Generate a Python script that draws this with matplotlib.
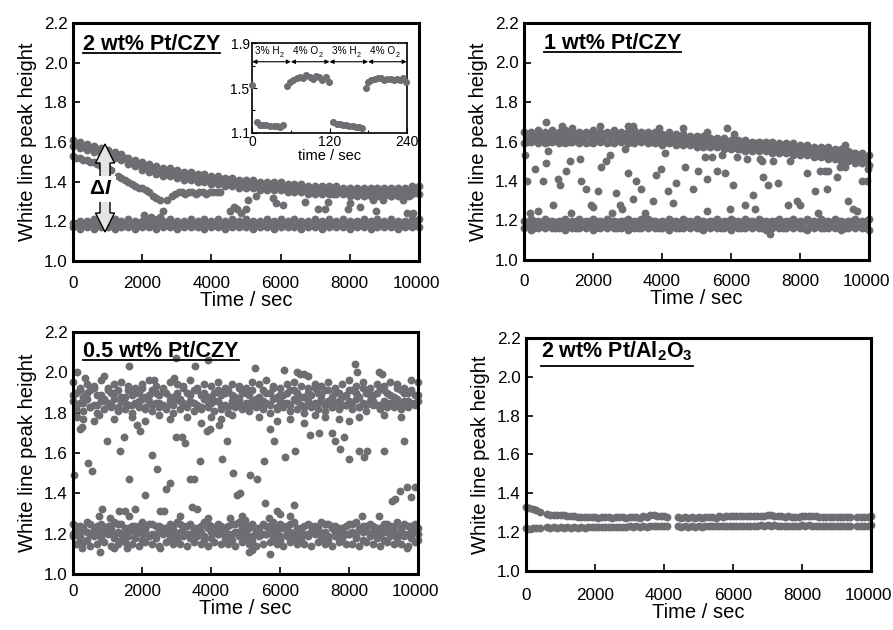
import numpy as np
import matplotlib
matplotlib.use("Agg")
import matplotlib.pyplot as plt
from matplotlib.patches import Polygon
from matplotlib.lines import Line2D
from matplotlib.transforms import ScaledTranslation

plt.rcParams['font.family'] = ['Liberation Sans', 'DejaVu Sans']
plt.rcParams['mathtext.fontset'] = 'custom'
plt.rcParams['mathtext.rm'] = 'Liberation Sans'
plt.rcParams['mathtext.bf'] = 'Liberation Sans:bold'
plt.rcParams['mathtext.it'] = 'Liberation Sans:italic'
plt.rcParams['mathtext.bfit'] = 'Liberation Sans:italic:bold'
plt.rcParams['mathtext.default'] = 'rm'

nan = np.nan
GRID_A = np.arange(0, 10001, 200)   # sampling times (s)
GRID_B = np.arange(100, 10000, 200)

# ---------------- 2 wt% Pt/CZY ----------------
czy2_up_a = [1.61,1.60,1.59,1.58,1.57,1.56,1.55,1.54,1.52,1.51,
             1.50,1.49,1.48,1.47,1.47,1.46,1.45,1.45,1.44,1.44,
             1.43,1.43,1.42,1.42,1.41,1.41,1.41,1.40,1.40,1.40,
             1.40,1.39,1.39,1.39,1.38,1.38,1.38,1.38,1.38,1.37,
             1.37,1.37,1.37,1.37,1.37,1.37,1.37,1.37,1.37,1.38,1.38]
czy2_up_b = [1.59,1.58,1.57,1.56,1.55,1.54,1.53,1.52,1.50,1.49,
             1.48,1.47,1.46,1.45,1.45,1.44,1.43,1.43,1.42,1.42,
             1.41,1.41,1.40,1.40,1.39,1.39,1.39,1.38,1.38,1.38,
             1.37,1.37,1.37,1.37,1.36,1.36,1.36,1.36,1.36,1.35,
             1.35,1.35,1.35,1.35,1.35,1.35,1.35,1.35,1.35,1.36]
czy2_up_c = [1.58,1.57,1.56,1.55,1.54,1.53,1.52,1.51,1.49,1.48,
             1.46,1.45,1.44,1.43,1.43,1.42,1.41,1.41,1.40,1.40,
             1.39,1.39,1.38,1.38,1.37,1.37,1.37,1.36,1.36,1.36,
             1.36,1.35,1.35,1.35,1.34,1.34,1.34,1.34,1.34,1.34,
             1.33,1.33,1.33,1.33,1.33,1.33,1.33,1.33,1.34,1.34,1.34]
czy2_lo_a = [1.19,1.20,1.20,1.21,1.20,1.20,1.21,1.20,1.21,1.20,
             1.20,1.21,1.20,1.20,1.21,1.20,1.20,1.21,1.20,1.21,
             1.20,1.21,1.20,1.21,1.20,1.21,1.20,1.20,1.21,1.20,
             1.21,1.20,1.21,1.20,1.20,1.21,1.20,1.21,1.20,1.21,
             1.20,1.20,1.21,1.20,1.21,1.20,1.21,1.20,1.20,1.21,1.21]
czy2_lo_b = [1.18,1.18,1.19,1.18,1.18,1.19,1.18,1.18,1.18,1.19,
             1.18,1.18,1.19,1.18,1.18,1.18,1.19,1.18,1.18,1.19,
             1.18,1.18,1.18,1.19,1.18,1.18,1.19,1.18,1.18,1.18,
             1.19,1.18,1.18,1.19,1.18,1.18,1.18,1.19,1.18,1.18,
             1.19,1.18,1.18,1.18,1.19,1.18,1.18,1.19,1.18,1.18]
czy2_lo_c = [1.17,1.16,1.17,1.16,1.17,1.17,1.16,1.17,1.17,1.16,
             1.17,1.17,1.16,1.17,1.17,1.16,1.17,1.17,1.17,1.16,
             1.17,1.17,1.16,1.17,1.17,1.17,1.16,1.17,1.17,1.16,
             1.17,1.17,1.17,1.16,1.17,1.17,1.16,1.17,1.17,1.17,
             1.16,1.17,1.17,1.16,1.17,1.17,1.17,1.16,1.17,1.17,1.17]
czy2_br_t = [0,100,200,300,400,500,600,700,800,900,1000,1100,1300,1400,1500,
             1600,1700,1800,1900,2000,2100,2200,2300,2400,2500]
czy2_br_v = [1.53,1.52,1.52,1.51,1.51,1.50,1.50,1.49,1.48,1.47,1.47,1.46,1.43,1.42,1.41,
             1.40,1.39,1.38,1.37,1.37,1.36,1.35,1.33,1.32,1.31]
czy2_mid_t = [2050,2150,2250,2350,2500,2600,2720,2860,2950,3050,
              3150,3250,3350,3450,3550,3650,3750,3850,3950,4050,
              4150,4250,4550,4650,4750,4850,5010,5060,5300,5450,
              5780,5880,6070,6700,7080,7280,7380,7520,7960,8000,
              8290,8500,8680,8750,8970,9200,9550,9640,9840,9700]
czy2_mid_v = [1.23,1.21,1.22,1.21,1.22,1.25,1.31,1.33,1.34,1.35,
              1.35,1.34,1.35,1.35,1.34,1.35,1.35,1.34,1.35,1.35,
              1.35,1.35,1.25,1.27,1.26,1.24,1.26,1.31,1.33,1.37,
              1.32,1.29,1.28,1.30,1.26,1.26,1.30,1.34,1.26,1.29,
              1.27,1.34,1.31,1.25,1.31,1.33,1.31,1.24,1.24,1.33]

# inset: 0-240 s switching
ins_t = [0, 7,12,17,22,27,33,38,43,48,
         54,59,64,69,74,79,84,89,94,99,104,109,114,119,
         126,131,136,141,146,151,156,161,166,170,
         176,180,185,190,195,200,205,210,215,220,225,230,234,239]
ins_v = [1.53, 1.20,1.17,1.17,1.17,1.16,1.16,1.16,1.15,1.17,
         1.52,1.55,1.57,1.59,1.60,1.59,1.62,1.60,1.58,1.61,1.60,1.57,1.60,1.55,
         1.20,1.18,1.18,1.17,1.17,1.16,1.16,1.15,1.15,1.14,
         1.50,1.55,1.57,1.58,1.59,1.59,1.57,1.58,1.58,1.57,1.58,1.57,1.59,1.55]
ins_seg_gas = ['3% H', '4% O', '3% H', '4% O']
ins_seg_edges = [0, 60, 120, 180, 240]

# ---------------- 1 wt% Pt/CZY ----------------
czy1_up_hi = [1.65,1.65,1.66,1.65,1.66,1.65,1.66,1.65,1.65,1.65,
              1.66,1.65,1.65,1.66,1.65,1.65,1.66,1.65,1.65,1.65,
              1.64,1.65,1.64,1.64,1.63,1.63,1.63,1.62,1.62,1.62,
              1.61,1.61,1.61,1.60,1.60,1.60,1.60,1.59,1.59,1.59,
              1.58,1.58,1.57,1.57,1.57,1.56,1.56,1.55,1.54,1.54,1.53]
czy1_up_x = [1.64,1.63,1.64,1.64,1.63,1.64,1.64,1.63,1.64,1.64,
             1.63,1.64,1.64,1.63,1.64,1.64,1.63,1.64,1.64,1.63,
             1.63,1.62,1.62,1.62,1.61,1.61,1.61,1.61,1.60,1.60,
             1.60,1.59,1.59,1.59,1.59,1.58,1.58,1.58,1.57,1.57,
             1.57,1.56,1.56,1.56,1.55,1.55,1.54,1.54,1.53,1.52]
czy1_up_mid = [1.62,1.62,1.63,1.62,1.62,1.63,1.62,1.62,1.62,1.63,
               1.62,1.62,1.63,1.62,1.62,1.62,1.62,1.63,1.62,1.62,
               1.61,1.61,1.61,1.60,1.60,1.60,1.60,1.59,1.59,1.59,
               1.58,1.58,1.58,1.58,1.57,1.57,1.57,1.56,1.56,1.55,
               1.55,1.55,1.55,1.54,1.54,1.53,1.53,1.52,1.51,1.51]
czy1_up_y = [1.60,1.61,1.61,1.60,1.61,1.61,1.60,1.61,1.61,1.60,
             1.61,1.61,1.60,1.61,1.61,1.60,1.61,1.61,1.60,1.60,
             1.60,1.60,1.59,1.59,1.59,1.58,1.58,1.58,1.58,1.57,
             1.57,1.57,1.56,1.56,1.56,1.56,1.55,1.55,1.55,1.54,
             1.54,1.54,1.53,1.53,1.52,1.52,1.51,1.51,1.50,1.50]
czy1_up_lo = [1.59,1.60,1.59,1.59,1.60,1.59,1.59,1.60,1.59,1.59,
              1.59,1.60,1.59,1.59,1.60,1.59,1.59,1.60,1.59,1.59,
              1.58,1.59,1.58,1.58,1.58,1.57,1.57,1.57,1.57,1.56,
              1.56,1.56,1.55,1.55,1.55,1.55,1.54,1.54,1.54,1.53,
              1.53,1.53,1.52,1.52,1.51,1.51,1.50,1.50,1.49,1.49,1.48]
czy1_lo_hi = [1.20,1.21,1.20,1.21,1.20,1.20,1.21,1.20,1.21,1.20,
              1.21,1.20,1.21,1.20,1.20,1.21,1.20,1.21,1.21,1.20,
              1.20,1.21,1.20,1.21,1.20,1.21,1.20,1.20,1.21,1.20,
              1.21,1.20,1.21,1.20,1.21,1.20,1.20,1.21,1.20,1.21,
              1.20,1.21,1.20,1.21,1.20,1.21,1.20,1.20,1.21,1.20,1.21]
czy1_lo_x = [1.19,1.20,1.19,1.20,1.19,1.20,1.19,1.20,1.19,1.20,
             1.20,1.19,1.20,1.19,1.20,1.19,1.20,1.19,1.20,1.19,
             1.19,1.20,1.19,1.20,1.19,1.20,1.19,1.20,1.19,1.20,
             1.20,1.19,1.20,1.19,1.20,1.19,1.20,1.19,1.20,1.19,
             1.19,1.20,1.19,1.20,1.19,1.20,1.19,1.20,1.19,1.20]
czy1_lo_mid = [1.18,1.18,1.18,1.19,1.18,1.18,1.18,1.18,1.19,1.18,
               1.18,1.18,1.18,1.19,1.18,1.18,1.18,1.18,1.19,1.18,
               1.18,1.18,1.18,1.19,1.18,1.18,1.18,1.18,1.18,1.19,
               1.18,1.18,1.18,1.18,1.19,1.18,1.18,1.18,1.18,1.18,
               1.19,1.18,1.18,1.18,1.18,1.19,1.18,1.18,1.18,1.18]
czy1_lo_y = [1.17,1.16,1.17,1.17,1.16,1.17,1.17,1.16,1.17,1.17,
             1.16,1.17,1.17,1.16,1.17,1.17,1.16,1.17,1.17,1.16,
             1.17,1.17,1.16,1.17,1.17,1.16,1.17,1.17,1.16,1.17,
             1.17,1.16,1.17,1.17,1.16,1.17,1.17,1.16,1.17,1.17,
             1.16,1.17,1.17,1.16,1.17,1.17,1.16,1.17,1.17,1.16]
czy1_lo_lo = [1.16,1.15,1.16,1.16,1.16,1.16,1.15,1.16,1.16,1.16,
              1.15,1.16,1.16,1.16,1.16,1.15,1.16,1.16,1.16,1.16,
              1.16,1.15,1.16,1.16,1.16,1.16,1.15,1.16,1.16,1.16,
              1.15,1.16,1.16,1.16,1.16,1.15,1.16,1.16,1.16,1.16,
              1.16,1.15,1.16,1.16,1.16,1.16,1.15,1.16,1.16,1.16,1.15]
czy1_out_t = [629,1100,1400,2200,3000,3150,3900,4600,5300,5870,6100,9300,7128]
czy1_out_v = [1.70,1.68,1.67,1.68,1.68,1.68,1.67,1.67,1.65,1.67,1.64,1.58,1.13]
czy1_mid_t = [20,87,184,310,406,551,648,696,841,986,
              1035,1228,1325,1373,1615,1640,1809,1954,2000,2147,
              2244,2389,2485,2563,2679,2776,2830,2921,3017,3162,
              3259,3404,3501,3743,3839,3985,4081,4178,4323,4420,
              4661,4903,5048,5242,5290,5300,5435,5580,5725,5822,
              5967,6064,6161,6300,6402,6450,6644,6692,6838,6890,
              6934,7079,7224,7369,7660,7700,7901,7990,8143,8191,
              8433,8530,8578,8720,8772,8820,9062,9159,9300,9400,
              9545,9640,9787,9930,9981]
czy1_mid_v = [1.53,1.40,1.24,1.46,1.25,1.40,1.49,1.55,1.28,1.41,
              1.38,1.45,1.50,1.24,1.51,1.40,1.36,1.28,1.27,1.35,
              1.47,1.50,1.53,1.24,1.34,1.28,1.26,1.56,1.44,1.31,
              1.40,1.36,1.24,1.30,1.43,1.46,1.54,1.35,1.29,1.39,
              1.47,1.36,1.45,1.52,1.25,1.41,1.52,1.45,1.53,1.44,
              1.26,1.38,1.52,1.56,1.28,1.51,1.33,1.26,1.51,1.50,
              1.42,1.38,1.50,1.39,1.28,1.50,1.30,1.28,1.56,1.44,
              1.35,1.24,1.45,1.45,1.36,1.45,1.42,1.47,1.47,1.30,
              1.26,1.25,1.40,1.40,1.46]

# ---------------- 0.5 wt% Pt/CZY ----------------
czy05_up1 = [1.95,1.92,1.94,1.93,1.96,1.92,1.94,1.95,1.93,1.92,
             1.94,1.96,1.93,1.92,1.95,1.94,1.93,1.96,1.92,1.94,
             1.93,1.95,1.92,1.94,1.93,1.92,1.95,1.94,1.96,1.93,
             1.92,1.94,1.95,1.93,1.92,1.94,1.93,1.95,1.92,1.94,
             1.96,1.93,1.95,1.92,1.94,1.93,1.95,1.94,1.92,1.96,1.95]
czy05_up2 = [1.90,1.88,1.91,1.89,1.87,1.90,1.91,1.88,1.89,1.90,
             1.88,1.91,1.89,1.90,1.88,1.87,1.90,1.91,1.89,1.88,
             1.90,1.89,1.91,1.88,1.90,1.89,1.87,1.91,1.90,1.88,
             1.89,1.91,1.90,1.88,1.89,1.90,1.91,1.88,1.90,1.89,
             1.91,1.88,1.90,1.89,1.92,1.90,1.88,1.91,1.90,1.89]
czy05_up3 = [1.86,1.85,1.87,1.84,1.86,1.85,1.87,1.86,1.84,1.85,
             1.87,1.86,1.85,1.84,1.86,1.87,1.85,1.86,1.84,1.87,
             1.85,1.86,1.84,1.86,1.87,1.85,1.86,1.84,1.85,1.87,
             1.86,1.85,1.87,1.84,1.86,1.85,1.87,1.86,1.85,1.84,
             1.86,1.87,1.85,1.86,1.84,1.86,1.85,1.87,1.86,1.85,1.86]
czy05_up4 = [1.82,1.81,1.83,1.80,1.82,1.83,1.81,1.82,1.80,1.83,
             1.82,1.81,1.83,1.82,1.80,1.82,1.83,1.81,1.82,1.83,
             1.81,1.82,1.80,1.83,1.82,1.81,1.83,1.82,1.80,1.82,
             1.83,1.81,1.82,1.80,1.83,1.82,1.81,1.83,1.82,1.84,
             1.82,1.83,1.81,1.84,1.82,1.83,1.84,1.82,1.83,1.84]
czy05_up5 = [1.89,1.91,1.90,1.92,1.89,1.91,1.90,1.88,1.91,1.90,
             1.92,1.89,1.90,1.91,1.88,1.90,1.92,1.89,1.91,1.90,
             1.88,1.91,1.90,1.89,1.92,1.90,1.91,1.88,1.90,1.92,
             1.89,1.90,1.91,1.88,1.90,1.92,1.89,1.91,1.90,1.88,
             1.91,1.90,1.92,1.89,1.90,1.91,1.89,1.92,1.90,1.91,1.89]
czy05_up6 = [1.84,1.85,1.83,1.84,1.86,1.84,1.83,1.85,1.84,1.86,
             1.83,1.84,1.85,1.83,1.84,1.86,1.84,1.85,1.83,1.84,
             1.86,1.84,1.83,1.85,1.84,1.83,1.85,1.86,1.84,1.83,
             1.85,1.84,1.86,1.83,1.84,1.85,1.84,1.83,1.86,1.84,
             1.85,1.83,1.84,1.86,1.84,1.85,1.83,1.84,1.86,1.85]
czy05_lo1 = [1.25,1.24,1.26,1.23,1.25,1.24,1.26,1.25,1.23,1.24,
             1.26,1.25,1.24,1.23,1.25,1.26,1.24,1.25,1.23,1.26,
             1.24,1.25,1.23,1.25,1.26,1.24,1.25,1.23,1.24,1.26,
             1.25,1.24,1.26,1.23,1.25,1.24,1.26,1.25,1.24,1.23,
             1.25,1.26,1.24,1.25,1.23,1.25,1.24,1.26,1.25,1.24,1.23]
czy05_lo2 = [1.21,1.22,1.20,1.22,1.21,1.23,1.21,1.20,1.22,1.21,
             1.22,1.20,1.21,1.23,1.22,1.21,1.20,1.22,1.21,1.23,
             1.21,1.22,1.20,1.21,1.22,1.23,1.21,1.20,1.22,1.21,
             1.23,1.21,1.22,1.20,1.21,1.22,1.21,1.23,1.22,1.20,
             1.21,1.22,1.23,1.21,1.20,1.22,1.21,1.22,1.20,1.21]
czy05_lo3 = [1.19,1.18,1.17,1.19,1.18,1.20,1.18,1.17,1.19,1.18,
             1.17,1.19,1.18,1.20,1.18,1.17,1.19,1.18,1.19,1.17,
             1.18,1.20,1.18,1.17,1.19,1.18,1.17,1.19,1.20,1.18,
             1.17,1.19,1.18,1.17,1.19,1.20,1.18,1.17,1.19,1.18,
             1.20,1.18,1.17,1.19,1.18,1.17,1.19,1.18,1.20,1.18,1.17]
czy05_lo4 = [1.15,1.16,1.14,1.15,1.16,1.14,1.15,1.16,1.15,1.14,
             1.16,1.15,1.14,1.16,1.15,1.15,1.14,1.16,1.15,1.14,
             1.16,1.15,1.15,1.14,1.16,1.15,1.14,1.15,1.16,1.15,
             1.14,1.16,1.15,1.15,1.14,1.16,1.15,1.14,1.16,1.15,
             1.15,1.14,1.16,1.15,1.14,1.16,1.15,1.15,1.14,1.16]
czy05_lo5 = [1.24,1.23,1.25,1.24,1.23,1.24,1.25,1.23,1.24,1.24,
             1.23,1.25,1.24,1.23,1.24,1.25,1.24,1.23,1.24,1.25,
             1.23,1.24,1.24,1.25,1.23,1.24,1.23,1.25,1.24,1.23,
             1.24,1.25,1.23,1.24,1.24,1.23,1.25,1.24,1.23,1.24,
             1.25,1.23,1.24,1.24,1.23,1.25,1.24,1.23,1.24,1.25]
czy05_lo6 = [1.20,1.19,1.21,1.20,1.19,1.21,1.20,1.20,1.19,1.21,
             1.20,1.19,1.20,1.21,1.20,1.19,1.21,1.20,1.20,1.19,
             1.21,1.20,1.19,1.20,1.21,1.20,1.19,1.21,1.20,1.20,
             1.19,1.21,1.20,1.19,1.20,1.21,1.20,1.19,1.21,1.20,
             1.20,1.19,1.21,1.20,1.19,1.21,1.20,1.20,1.19,1.21,1.20]
czy05_mid_t = [39,116,213,250,425,551,985,1353,1488,1614,
               1855,1952,2077,2290,2435,2705,2821,2995,3159,3256,
               3401,3498,3671,3884,3981,4222,4319,4464,4638,4754,
               4850,5140,5333,5527,5575,5720,5816,6155,6444,6879,
               7121,7507,7604,7749,7850,7990,8280,8425,8522,9005,
               9246,9343,9488,9585,9681,9797,9923]
czy05_mid_v = [1.49,2.00,1.72,1.73,1.55,1.51,1.66,1.61,1.68,1.47,
               1.74,1.71,1.39,1.59,1.52,1.42,1.45,1.68,1.68,1.65,
               1.47,1.47,1.56,1.71,1.72,1.74,1.57,1.66,1.50,1.39,
               1.40,1.49,1.47,1.56,1.35,1.72,1.66,1.58,1.61,1.69,
               1.70,1.70,1.66,1.62,1.68,1.57,1.61,1.58,1.61,1.61,
               1.36,1.37,1.41,1.66,1.43,1.38,1.43]
czy05_lm_t = [744,840,1082,1324,1517,1620,1807,2531,2630,3111,
              3449,3590,3900,4560,4899,4990,5671,5913,6010,6300,
              6396,8377,8860]
czy05_lm_v = [1.29,1.32,1.28,1.31,1.31,1.29,1.32,1.31,1.31,1.29,
              1.33,1.32,1.28,1.28,1.29,1.27,1.28,1.31,1.30,1.29,
              1.34,1.29,1.29]
czy05_hi_t = [357,889,1614,2338,2918,2995,3546,3903,5285,6106,
              6493,6590,6700,6800,8184,8240,8860,8950]
czy05_hi_v = [1.97,1.98,2.03,1.96,1.97,2.07,2.03,2.06,2.02,2.01,
              2.00,1.99,1.99,1.98,2.04,2.00,2.00,1.99]
czy05_ul_t = [130,300,600,750,1200,1700,2100,2500,2800,3300,
              3700,4000,4300,4600,5400,5900,6300,6700,7000,7300,
              7700,8000,8300,9000,9500]
czy05_ul_v = [1.78,1.77,1.76,1.79,1.77,1.78,1.76,1.79,1.77,1.78,
              1.75,1.78,1.77,1.79,1.78,1.76,1.77,1.75,1.79,1.78,
              1.77,1.76,1.78,1.79,1.78]
czy05_lw_t = [261,792,1179,1565,2531,5092,5200,5720,9681]
czy05_lw_v = [1.13,1.11,1.13,1.13,1.13,1.11,1.12,1.10,1.13]

# ---------------- 2 wt% Pt/Al2O3 ----------------
al_up_a = [1.330,1.318,1.305,1.292,1.290,1.288,1.285,1.283,1.280,1.280,
           1.278,1.280,1.277,1.280,1.278,1.280,1.278,1.282,1.286,1.285,
           1.284,nan,1.278,1.280,1.278,1.280,1.278,1.280,1.282,1.284,
           1.285,1.284,1.285,1.284,1.285,1.286,1.284,1.282,1.282,1.280,
           1.284,1.284,1.282,1.280,1.280,1.280,1.280,1.278,1.280,1.280,1.282]
al_up_b = [1.325,1.312,nan,1.290,1.288,1.286,1.283,1.280,1.278,1.276,
           1.275,1.276,1.274,1.276,1.274,1.276,1.275,1.280,1.288,1.282,
           1.280,nan,1.275,1.274,1.275,1.274,1.276,1.275,1.280,1.281,
           1.282,1.281,1.282,1.281,1.282,1.288,1.281,1.279,1.279,1.278,
           1.281,1.281,1.279,1.277,1.276,1.276,1.276,nan,1.278,1.278]
al_lo_a = [1.220,1.220,1.222,1.228,1.226,1.225,1.226,1.225,1.226,1.227,
           1.228,1.228,1.229,1.228,1.229,1.230,1.230,1.231,1.233,1.233,
           1.234,nan,1.230,1.230,1.231,1.231,1.232,1.232,1.233,1.233,
           1.234,1.234,1.234,1.234,1.235,1.235,1.235,1.234,1.234,1.234,
           1.235,1.235,1.234,1.234,1.234,1.234,1.234,1.233,1.233,1.234,1.235]
al_lo_b = [1.218,1.220,nan,1.224,1.222,1.222,1.223,1.223,1.224,1.225,
           1.225,1.226,1.226,1.227,1.227,1.228,1.228,1.229,1.231,1.231,
           1.232,nan,1.228,1.228,1.229,1.229,1.230,1.230,1.231,1.231,
           1.232,1.232,1.232,1.232,1.233,1.233,1.233,1.232,1.232,1.232,
           1.233,1.233,1.232,1.232,1.232,1.232,1.232,nan,1.231,1.232]

XTICKS = [0, 2000, 4000, 6000, 8000, 10000]
YTICKS = [1.0, 1.2, 1.4, 1.6, 1.8, 2.0, 2.2]

C = '#6d6e71'
MS = 32
FS_TICK = 12.3
FS_LAB = 14.5

fig = plt.figure(figsize=(8.93, 6.30), dpi=100)
W, H = 893.0, 630.0

def px_axes(l, t, r, b):
    return fig.add_axes([l / W, (H - b) / H, (r - l) / W, (b - t) / H])

ax1 = px_axes(73, 23, 419, 261)
ax2 = px_axes(524, 23, 869, 260)
ax3 = px_axes(73, 332, 418, 574)
ax4 = px_axes(526, 338, 871, 571)

def style(ax, xpad):
    ax.set_xlim(0, 10000)
    ax.set_ylim(1.0, 2.2)
    ax.set_xticks(XTICKS)
    ax.set_yticks(YTICKS)
    ax.set_yticklabels(['%.1f' % v for v in YTICKS])
    ax.tick_params(direction='in', length=5, width=1.2, labelsize=FS_TICK)
    ax.tick_params(axis='x', pad=xpad)
    ax.tick_params(axis='y', pad=4)
    for s in ax.spines.values():
        s.set_linewidth(2.2)
    ax.set_xlabel('Time / sec', fontsize=FS_LAB, labelpad=0)
    ax.set_ylabel('White line peak height', fontsize=FS_LAB, labelpad=5)
    lab = ax.get_xticklabels()[-1]
    lab.set_transform(lab.get_transform() + ScaledTranslation(-3 / 100, 0, fig.dpi_scale_trans))

def sc(ax, x, y, s=MS, z=2):
    ax.scatter(x, y, s=s, c=C, linewidths=0, zorder=z, clip_on=False)

for ax, xp in ((ax1, 10.5), (ax2, 10.0), (ax3, 7.5), (ax4, 12.0)):
    style(ax, xp)

# panel 1
for g, v in ((GRID_A, czy2_up_a), (GRID_B, czy2_up_b), (GRID_A, czy2_up_c),
             (GRID_A, czy2_lo_a), (GRID_B, czy2_lo_b), (GRID_A, czy2_lo_c)):
    sc(ax1, g, v)
sc(ax1, czy2_br_t, czy2_br_v); sc(ax1, czy2_mid_t, czy2_mid_v)

# panel 2
for g, v in ((GRID_A, czy1_up_hi), (GRID_B, czy1_up_x), (GRID_B, czy1_up_mid),
             (GRID_B, czy1_up_y), (GRID_A, czy1_up_lo),
             (GRID_A, czy1_lo_hi), (GRID_B, czy1_lo_x), (GRID_B, czy1_lo_mid),
             (GRID_B, czy1_lo_y), (GRID_A, czy1_lo_lo)):
    sc(ax2, g, v)
sc(ax2, czy1_out_t, czy1_out_v); sc(ax2, czy1_mid_t, czy1_mid_v)

# panel 3
for g, v in ((GRID_A, czy05_up1), (GRID_B, czy05_up2), (GRID_A, czy05_up3), (GRID_B, czy05_up4),
             (GRID_A, czy05_up5), (GRID_B, czy05_up6),
             (GRID_A, czy05_lo1), (GRID_B, czy05_lo2), (GRID_A, czy05_lo3), (GRID_B, czy05_lo4),
             (GRID_B, czy05_lo5), (GRID_A, czy05_lo6)):
    sc(ax3, g, v)
for t, v in ((czy05_mid_t, czy05_mid_v), (czy05_lm_t, czy05_lm_v), (czy05_hi_t, czy05_hi_v),
             (czy05_ul_t, czy05_ul_v), (czy05_lw_t, czy05_lw_v)):
    sc(ax3, t, v)

# panel 4
for g, v in ((GRID_A, al_up_a), (GRID_B, al_up_b), (GRID_A, al_lo_a), (GRID_B, al_lo_b)):
    sc(ax4, g, v)

# Delta I arrow in panel 1 (axes-fraction geometry)
axw, axh = 346.0, 238.0
cx = 32 / axw
top, bot = 117 / axh, 29 / axh
hl, hw, sw = 19 / axh, 9.5 / axw, 5 / axw
verts = [(cx, top), (cx + hw, top - hl), (cx + sw, top - hl), (cx + sw, bot + hl),
         (cx + hw, bot + hl), (cx, bot), (cx - hw, bot + hl), (cx - sw, bot + hl),
         (cx - sw, top - hl), (cx - hw, top - hl)]
ax1.add_patch(Polygon(verts, closed=True, transform=ax1.transAxes, facecolor='#e4e4e4',
                      edgecolor='black', linewidth=1.0, zorder=4))
ax1.text(28 / axw, 72 / axh, r'$\mathbf{\Delta}\mathbfit{I}$', transform=ax1.transAxes,
         fontsize=15, ha='center', va='center', zorder=5,
         bbox=dict(boxstyle='square,pad=0.15', facecolor='white', edgecolor='none'))

# panel titles with underline
titles = [(ax1, '2 wt% Pt/CZY', 10, 27, 3),
          (ax2, '1 wt% Pt/CZY', 20, 26, 3),
          (ax3, '0.5 wt% Pt/CZY', 10, 25, 3),
          (ax4, '2 wt% Pt/Al$_\\mathbf{2}$O$_\\mathbf{3}$', 15, 19, 9)]
title_artists = []
for ax, txt, dx, dy, ul in titles:
    bb = ax.get_position()
    xf = bb.x0 + dx / W
    yf = bb.y1 - dy / H
    t = fig.text(xf, yf, txt, fontsize=15.5, fontweight='bold', ha='left', va='baseline', zorder=6)
    title_artists.append((t, yf, ul))

# inset
ins = fig.add_axes([252.3 / W, (H - 132.7) / H, 154.4 / W, 89.4 / H])
ins.set_zorder(10)
ins.scatter(ins_t, ins_v, s=26, c=C, linewidths=0, zorder=3, clip_on=False)
ins.set_xlim(0, 240)
ins.set_ylim(1.1, 1.9)
ins.set_xticks([0, 120, 240])
ins.set_xticks([60, 180], minor=True)
ins.set_yticks([1.1, 1.5, 1.9])
ins.set_yticks([1.3, 1.7], minor=True)
ins.tick_params(which='both', direction='in', labelsize=10, pad=2, width=0.8)
ins.tick_params(which='major', length=3.5)
ins.tick_params(which='minor', length=2.5)
for s in ins.spines.values():
    s.set_linewidth(1.2)
ins.set_xlabel('time / sec', fontsize=10.5, labelpad=0)
for i in range(4):
    a, b = ins_seg_edges[i], ins_seg_edges[i + 1]
    ins.annotate('', xy=(b, 1.735), xytext=(a, 1.735),
                 arrowprops=dict(arrowstyle='<|-|>', color='black', lw=0.8,
                                 mutation_scale=6, shrinkA=0, shrinkB=0))
    xr = (a + b) / 2 + 12
    ins.text(xr, 1.79, ins_seg_gas[i], fontsize=7.2, ha='right', va='bottom',
             family='Liberation Sans')
    ins.annotate('2', xy=(xr, 1.79), xycoords='data', xytext=(0.4, -2.2),
                 textcoords='offset points', fontsize=5.2, ha='left', va='bottom',
                 family='Liberation Sans')

fig.canvas.draw()
renderer = fig.canvas.get_renderer()
for t, yf, ul in title_artists:
    ext = t.get_window_extent(renderer)
    x0, x1 = ext.x0 / W, ext.x1 / W
    ypix = yf * H - ul
    fig.add_artist(Line2D([x0, x1], [ypix / H, ypix / H], transform=fig.transFigure,
                          color='black', linewidth=1.3))

fig.savefig('out.png', dpi=100)
